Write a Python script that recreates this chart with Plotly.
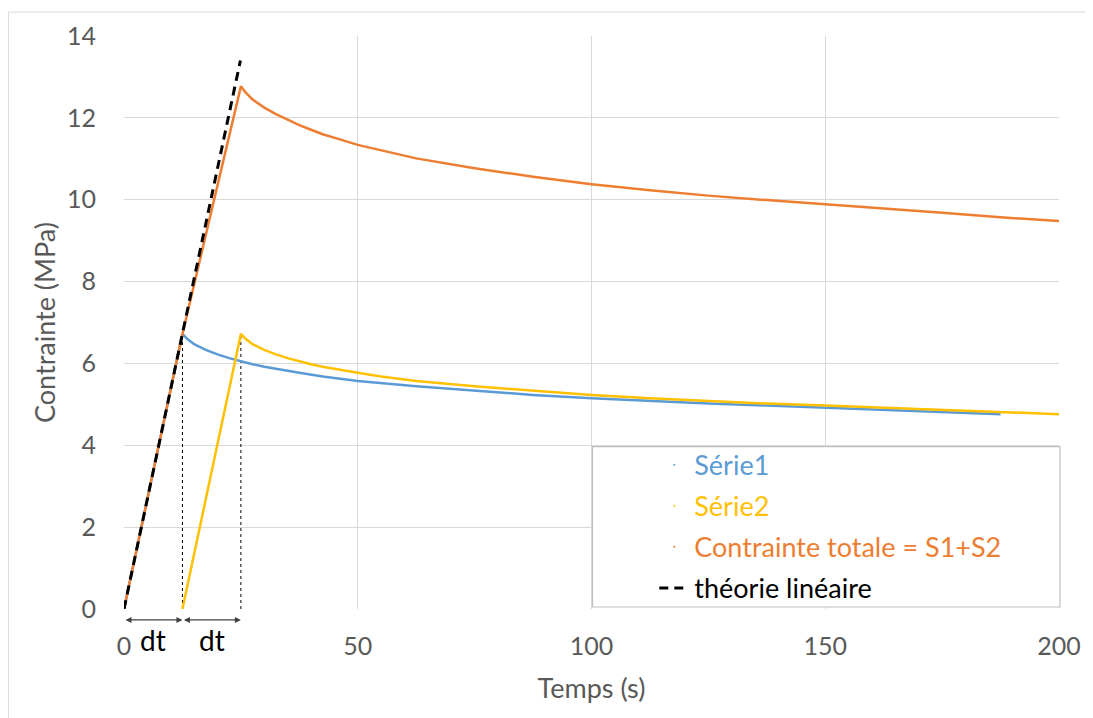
import plotly.graph_objects as go

# --- data ---
t_s1 = [0, 12.5, 13.5, 15, 17.5, 20, 22.5, 25, 27.5, 30, 33.3, 37.5, 42.5, 50, 62.5, 75,
        87.5, 100, 112.5, 125, 137.5, 150, 162.5, 175, 187.5]
v_s1 = [0, 6.72, 6.60, 6.47, 6.33, 6.22, 6.13, 6.05, 5.98, 5.92, 5.85, 5.77, 5.68, 5.57, 5.44, 5.33,
        5.23, 5.15, 5.08, 5.02, 4.97, 4.92, 4.87, 4.81, 4.76]

t_s2 = [12.5, 25, 26, 27.5, 30, 32.5, 35, 37.5, 40, 42.5, 45.8, 50, 55, 62.5, 75, 87.5,
        100, 112.5, 125, 137.5, 150, 162.5, 175, 187.5, 200]
v_s2 = [0, 6.72, 6.60, 6.47, 6.33, 6.22, 6.13, 6.05, 5.98, 5.92, 5.85, 5.77, 5.68, 5.57, 5.44, 5.33,
        5.23, 5.15, 5.08, 5.02, 4.97, 4.92, 4.87, 4.81, 4.76]

t_tot = [0, 12.5, 25, 26, 27.5, 30, 32.5, 35, 37.5, 40, 42.5, 46, 50, 62.5, 75, 87.5, 100,
         112.5, 125, 137.5, 150, 162.5, 175, 187.5, 200]
v_tot = [0, 6.72, 12.77, 12.62, 12.45, 12.25, 12.09, 11.95, 11.82, 11.71, 11.60, 11.48, 11.34,
         11.01, 10.77, 10.56, 10.38, 10.23, 10.10, 9.99, 9.89, 9.79, 9.68, 9.57, 9.48]

t_lin = [0, 24.9]
v_lin = [0, 13.4]

dt = 12.5
t_marks = [dt, 2 * dt]
v_marks = [6.72, 6.72]

names = ["Série1", "Série2", "Contrainte totale = S1+S2", "théorie linéaire"]
colors = ["#5B9BD5", "#FFC000", "#ED7D31", "#000000"]

x_ticks = [0, 50, 100, 150, 200]
y_ticks = [0, 2, 4, 6, 8, 10, 12, 14]

FONT = "Lato"
GRAY = "#595959"

fig = go.Figure()

# dotted vertical guides
for tm, vm in zip(t_marks, v_marks):
    fig.add_trace(go.Scatter(x=[tm, tm], y=[0, vm], mode="lines",
                             line=dict(color="black", width=1, dash="dot"),
                             showlegend=False, hoverinfo="skip"))

series = [(t_s1, v_s1), (t_s2, v_s2), (t_tot, v_tot)]
for (tx, vy), c in zip(series, colors[:3]):
    fig.add_trace(go.Scatter(x=tx, y=vy, mode="lines", line=dict(color=c, width=2.5),
                             showlegend=False))

fig.add_trace(go.Scatter(x=t_lin, y=v_lin, mode="lines",
                         line=dict(color="black", width=3, dash="9px,6px"),
                         showlegend=False))

# legend entries (tiny dots like the original, coloured text)
for i, (n, c) in enumerate(zip(names[:3], colors[:3])):
    fig.add_trace(go.Scatter(x=[None], y=[None], mode="markers",
                             name=f'<span style="color:{c}">{n}</span>',
                             marker=dict(color=c, size=2), legendgroup=f"g{i}"))
fig.add_trace(go.Scatter(x=[None], y=[None], mode="lines",
                         name=f'<span style="color:#000000">{names[3]}</span>',
                         line=dict(color="black", width=3, dash="9px,6px"), legendgroup="g3"))

# dt arrows below the axis
y_arrow = -0.019
for x0, x1 in [(0, dt), (dt, 2 * dt)]:
    fig.add_annotation(x=x1, y=y_arrow, xref="x", yref="paper", ax=x0, ay=0,
                       axref="x", ayref="pixel", text="", showarrow=True,
                       arrowhead=2, startarrowhead=2, arrowside="end+start",
                       arrowsize=1, arrowwidth=1.2, arrowcolor="#404040",
                       standoff=0, startstandoff=0)
    fig.add_annotation(x=(x0 + x1) / 2, y=-0.054, xref="x", yref="paper",
                       text="dt", showarrow=False, yanchor="middle",
                       font=dict(family=FONT, size=28, color="black"))

# legend box
fig.add_shape(type="rect", xref="paper", yref="paper",
              x0=(594 - 124) / 938, x1=(1063 - 124) / 938,
              y0=(609 - 607) / 575, y1=(609 - 446) / 575,
              fillcolor="white", line=dict(color="#BFBFBF", width=1.2), layer="above")

# outer chart border: top and left edges (others fall outside the window)
bx0, by1 = (8 - 124) / 938, (609 - 10) / 575
fig.add_shape(type="line", xref="paper", yref="paper", x0=bx0, x1=1.04, y0=by1, y1=by1,
              line=dict(color="#D9D9D9", width=1), layer="below")
fig.add_shape(type="line", xref="paper", yref="paper", x0=bx0, x1=bx0, y0=-0.25, y1=by1,
              line=dict(color="#D9D9D9", width=1), layer="below")

fig.update_layout(
    width=1085, height=710,
    margin=dict(l=116, r=31, t=26, b=109),
    paper_bgcolor="white", plot_bgcolor="white",
    font=dict(family=FONT, size=25, color=GRAY),
    legend=dict(x=(656 - 124) / 938, y=(609 - 440) / 575, xanchor="left", yanchor="top",
                bgcolor="rgba(0,0,0,0)", borderwidth=0, tracegroupgap=3,
                font=dict(family=FONT, size=27)),
    xaxis=dict(range=[0, 200], tickvals=x_ticks, showgrid=True, gridcolor="#D9D9D9",
               gridwidth=1, zeroline=False, showline=False, ticks="",
               ticklabelstandoff=20,
               tickfont=dict(family=FONT, size=25, color=GRAY),
               title=dict(text="Temps (s)", standoff=20,
                          font=dict(family=FONT, size=27, color=GRAY))),
    yaxis=dict(range=[0, 14], tickvals=y_ticks, showgrid=True, gridcolor="#D9D9D9",
               gridwidth=1, zeroline=False, showline=False, ticks="",
               ticklabelstandoff=27,
               tickfont=dict(family=FONT, size=25, color=GRAY),
               title=dict(text="Contrainte (MPa)", standoff=3,
                          font=dict(family=FONT, size=27, color=GRAY))),
)

fig.write_html("out.html")
